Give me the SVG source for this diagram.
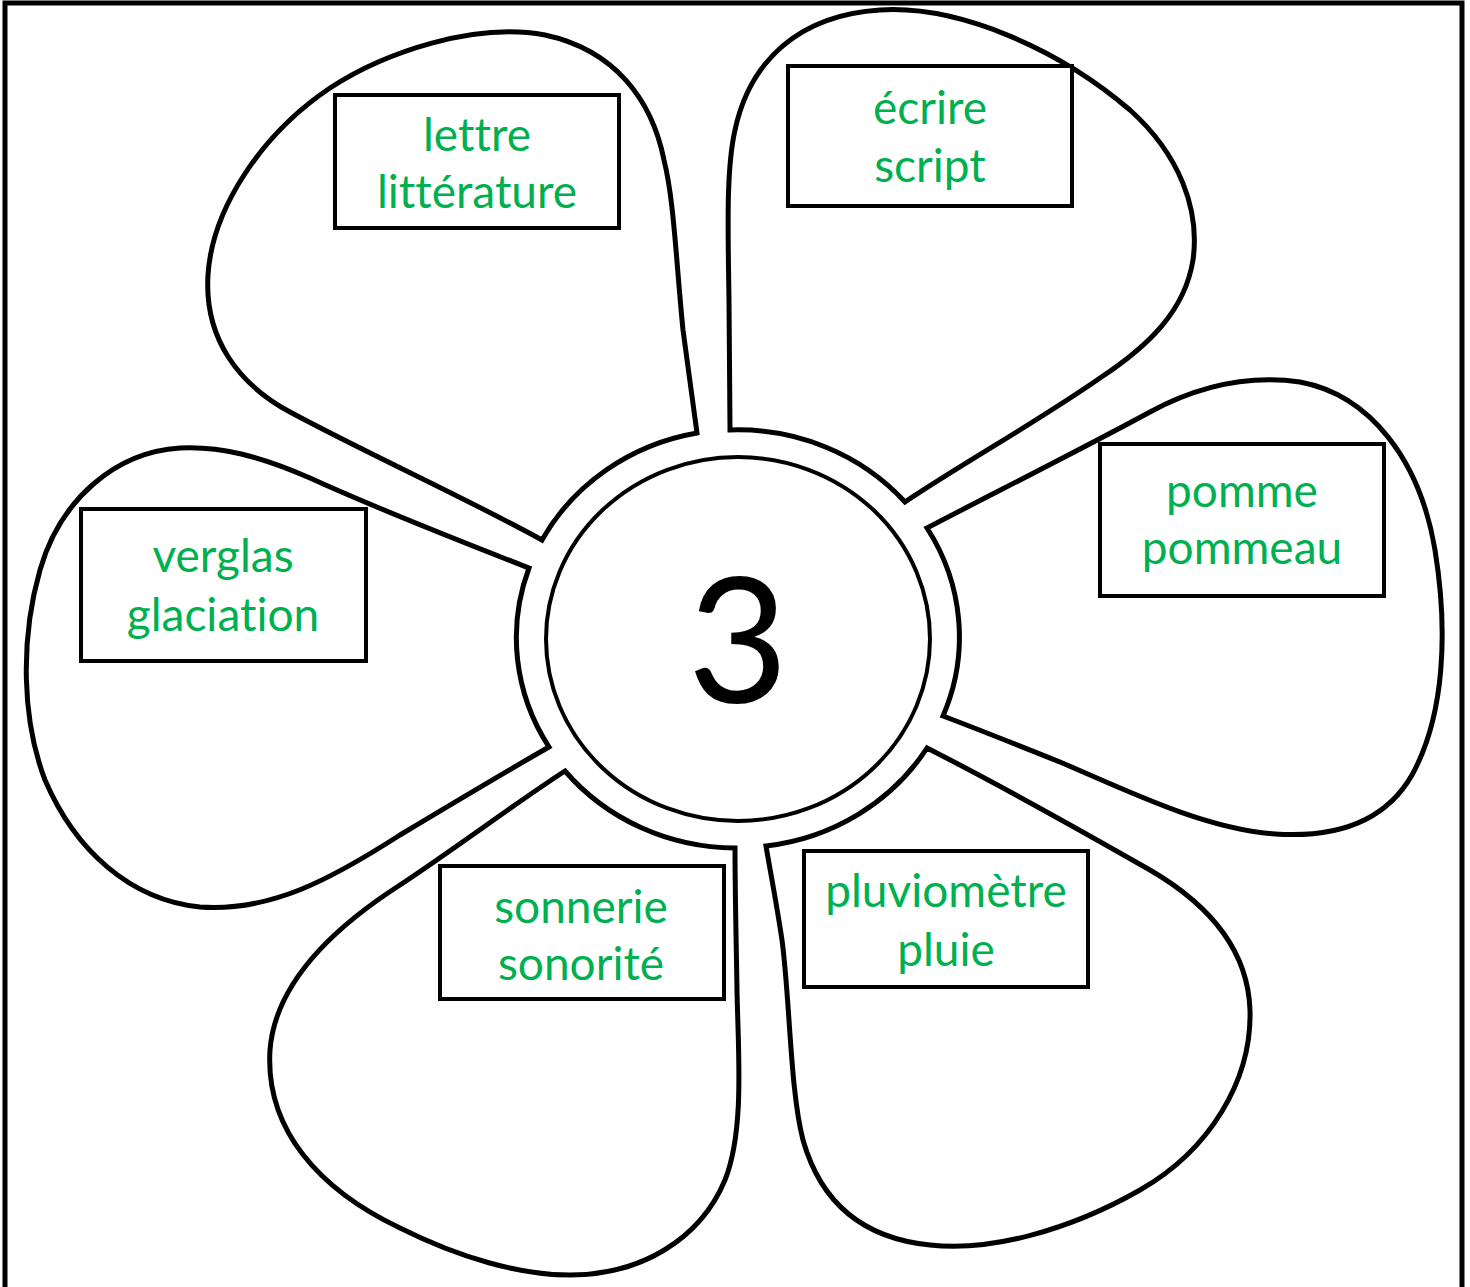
<svg xmlns="http://www.w3.org/2000/svg" width="1470" height="1287" viewBox="0 0 1470 1287">
<style>
.petal{fill:#fff;stroke:#000;stroke-width:5;stroke-linejoin:miter}
.box{fill:#fff;stroke:#000;stroke-width:4}
.lbl{font-family:Lato,"Noto Sans",sans-serif;font-size:46px;fill:#00B050;text-anchor:middle;font-variant-ligatures:none;font-feature-settings:"liga" 0,"clig" 0}
</style>
<rect x="0" y="0" width="1470" height="1287" fill="#fff"/>
<rect x="5" y="3" width="1457" height="1320" fill="none" stroke="#000" stroke-width="5"/>
<g id="petal-lettre">
<path class="petal" d="M697,433 L683,330 C676,260 674,200 664,160 C652,100 615,50 545,35 C475,22 385,52 330,88 C260,135 212,210 208,275 C204,340 240,385 290,412 C370,455 460,495 542,540 A221 209 0 0 1 697,433 Z"/>
<rect class="box" x="335" y="95" width="284" height="133"/>
<text class="lbl" x="477" y="151">lettre</text>
<text class="lbl" x="477" y="208">littérature</text>
</g>
<g id="petal-ecrire">
<path class="petal" d="M730,430 L729,300 C728,230 726,170 735,130 C750,60 800,15 880,10 C960,5 1060,50 1130,110 C1180,155 1200,210 1193,260 C1185,310 1150,345 1100,378 C1040,420 960,465 905,502 A221 209 0 0 0 730,430 Z"/>
<rect class="box" x="788" y="66" width="284" height="140"/>
<text class="lbl" x="930" y="124">écrire</text>
<text class="lbl" x="930" y="182">script</text>
</g>
<g id="petal-pomme">
<path class="petal" d="M927,528 C990,495 1080,450 1150,412 C1200,385 1250,375 1300,382 C1370,395 1420,460 1435,550 C1448,630 1445,715 1412,775 C1385,822 1335,838 1275,834 C1205,829 1130,792 1060,762 C1020,746 980,730 943,716 A221 209 0 0 0 927,528 Z"/>
<rect class="box" x="1100" y="444" width="284" height="152"/>
<text class="lbl" x="1242" y="507">pomme</text>
<text class="lbl" x="1242" y="564">pommeau</text>
</g>
<g id="petal-pluviometre">
<path class="petal" d="M927,748 C990,780 1080,830 1150,870 C1210,905 1248,950 1250,1010 C1252,1080 1210,1150 1140,1190 C1070,1230 990,1252 930,1245 C860,1238 820,1200 803,1140 C790,1090 790,1000 782,940 C776,900 770,870 766,846 A221 209 0 0 0 927,748 Z"/>
<rect class="box" x="804" y="851" width="284" height="136"/>
<text class="lbl" x="946" y="907">pluviomètre</text>
<text class="lbl" x="946" y="966">pluie</text>
</g>
<g id="petal-sonnerie">
<path class="petal" d="M565,771 C520,800 460,845 400,885 C330,930 275,985 270,1050 C265,1130 320,1190 400,1228 C460,1258 520,1275 570,1275 C640,1275 700,1240 725,1180 C745,1130 738,1050 737,990 C736,930 735,890 735,848 A221 209 0 0 1 565,771 Z"/>
<rect class="box" x="440" y="866" width="284" height="133"/>
<text class="lbl" x="581" y="923">sonnerie</text>
<text class="lbl" x="581" y="980">sonorité</text>
</g>
<g id="petal-verglas">
<path class="petal" d="M529,568 C470,545 380,510 310,478 C260,456 220,446 180,448 C115,452 60,500 40,570 C20,640 22,720 45,780 C75,850 130,900 200,907 C270,912 330,880 400,835 C450,805 500,775 549,747 A221 209 0 0 1 529,568 Z"/>
<rect class="box" x="81" y="509" width="285" height="152"/>
<text class="lbl" x="223" y="572">verglas</text>
<text class="lbl" x="223" y="631">glaciation</text>
</g>
<g id="center">
<ellipse cx="738" cy="639" rx="192" ry="182" fill="#fff" stroke="#000" stroke-width="4"/>
<text x="738" y="703" font-family="Lato,'Noto Sans',sans-serif" font-size="174" fill="#000" text-anchor="middle">3</text>
</g>
</svg>
